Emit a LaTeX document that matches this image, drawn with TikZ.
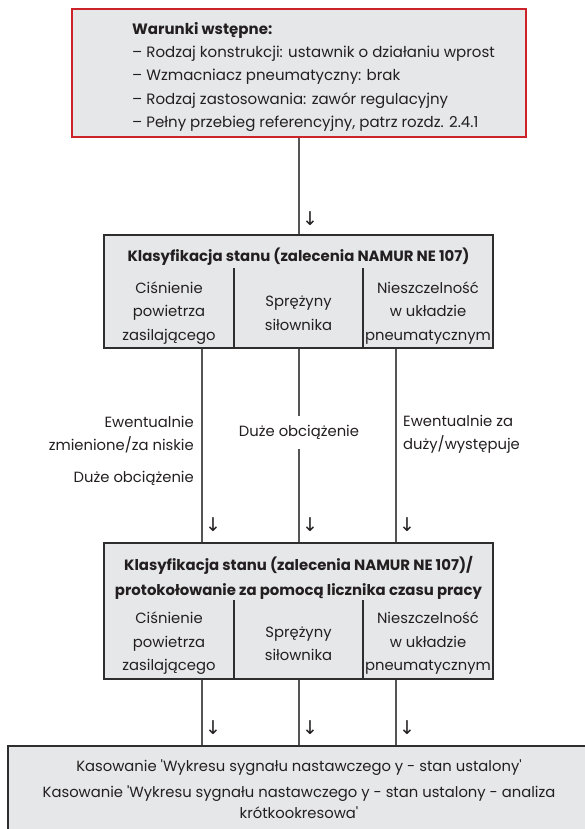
\documentclass[tikz,border=0pt]{standalone}
\usepackage{fontspec}
\newfontfamily\fut{Poppins}
\newfontfamily\arr{DejaVu Sans}
\definecolor{boxfill}{HTML}{E6E7E8}
\definecolor{redline}{HTML}{CC2229}
\definecolor{frame}{HTML}{2E2E2E}
\definecolor{connc}{HTML}{555555}
\definecolor{ink}{HTML}{231F20}
\newlength\mwa \newlength\mwb \newlength\mwc \newlength\mwd \newlength\mwe
\newlength\mta \newlength\mtb \newlength\mtc
\newlength\mba \newlength\mbb
\begin{document}
% calibrate font sizes against the reference text widths
\settowidth\mwa{\fut\fontsize{10}{12}\selectfont Duże obciążenie}%
\settowidth\mwb{\fut\fontsize{10}{12}\selectfont zmienione/za niskie}%
\settowidth\mwc{\fut\fontsize{10}{12}\selectfont Ewentualnie za}%
\settowidth\mwd{\fut\fontsize{10}{12}\selectfont Kasowanie 'Wykresu sygnału nastawczego y - stan ustalony'}%
\settowidth\mwe{\fut\fontsize{10}{12}\selectfont Kasowanie 'Wykresu sygnału nastawczego y - stan ustalony - analiza}%
\settowidth\mta{\fut\fontsize{10}{12}\selectfont – Rodzaj konstrukcji: ustawnik o działaniu wprost}%
\settowidth\mtb{\fut\fontsize{10}{12}\selectfont – Wzmacniacz pneumatyczny: brak}%
\settowidth\mtc{\fut\fontsize{10}{12}\selectfont – Pełny przebieg referencyjny, patrz rozdz. 2.4.1}%
\settowidth\mba{\fut\bfseries\fontsize{10}{12}\selectfont Klasyfikacja stanu (zalecenia NAMUR NE 107)}%
\settowidth\mbb{\fut\bfseries\fontsize{10}{12}\selectfont protokołowanie za pomocą licznika czasu pracy}%
\pgfmathsetmacro\regsize{10*1333/(\mwa+\mwb+\mwc+\mwd+\mwe+0.001)}%
\pgfmathsetmacro\topsize{10*977/(\mta+\mtb+\mtc+0.001)}%
\pgfmathsetmacro\boldsize{10*709/(\mba+\mbb+0.001)}%
\begin{tikzpicture}[x=1pt,y=-1pt]
\tikzset{
  every node/.style={inner sep=0pt, text=ink},
  txt/.style={font=\fut\fontsize{\regsize}{23.5}\selectfont, align=center},
  toptxt/.style={font=\fut\fontsize{\topsize}{23.4}\selectfont, align=left},
  boldtxt/.style={font=\fut\bfseries\fontsize{\boldsize}{25}\selectfont, align=center},
  prebox/.style={draw=redline, line width=2pt, fill=boxfill},
  clsbox/.style={draw=frame, line width=2pt, fill=boxfill},
  conn/.style={draw=connc, line width=1.2pt},
  divider/.style={draw=frame, line width=1.3pt},
  darr/.style={font=\arr\fontsize{19}{19}\selectfont},
}
\useasboundingbox (0,0) rectangle (585,829);

% top box
\node[prebox, minimum width=454pt, minimum height=128pt] (pre) at (299,73) {};
\node[toptxt, anchor=west] (pretext) at (132,77)
  {{\bfseries Warunki wstępne:}\\
   – Rodzaj konstrukcji: ustawnik o działaniu wprost\\
   – Wzmacniacz pneumatyczny: brak\\
   – Rodzaj zastosowania: zawór regulacyjny\\
   – Pełny przebieg referencyjny, patrz rozdz. 2.4.1};

% classification box 1
\node[clsbox, minimum width=389pt, minimum height=113pt] (cls1) at (298.5,291.5) {};
\node[boldtxt] (cls1t) at (298.5,257) {Klasyfikacja stanu (zalecenia NAMUR NE 107)};
\draw[divider] (234,268) -- (234,348);
\draw[divider] (363,268) -- (363,348);
\node[txt] (c1a) at (169,313) {Ciśnienie\\powietrza\\zasilającego};
\node[txt] (c1b) at (298.5,313) {Sprężyny\\siłownika};
\node[txt] (c1c) at (428,313) {Nieszczelność\\w układzie\\pneumatycznym};

% classification box 2
\node[clsbox, minimum width=389pt, minimum height=136pt] (cls2) at (298.5,611) {};
\node[boldtxt] (cls2t) at (298.5,577.5) {Klasyfikacja stanu (zalecenia NAMUR NE 107)/\\protokołowanie za pomocą licznika czasu pracy};
\draw[divider] (234,600) -- (234,679);
\draw[divider] (363,600) -- (363,679);
\node[txt] (c2a) at (169,643.5) {Ciśnienie\\powietrza\\zasilającego};
\node[txt] (c2b) at (298.5,643.5) {Sprężyny\\siłownika};
\node[txt] (c2c) at (428,643.5) {Nieszczelność\\w układzie\\pneumatycznym};

% result box
\node[clsbox, minimum width=600pt, minimum height=120pt, anchor=north west] (res) at (7,745) {};
\node[txt] (r1) at (299,768) {Kasowanie 'Wykresu sygnału nastawczego y - stan ustalony'};
\node[txt, font=\fut\fontsize{\regsize}{21.5}\selectfont] (r2) at (299,802)
  {Kasowanie 'Wykresu sygnału nastawczego y - stan ustalony - analiza\\krótkookresowa'};

% connectors
\coordinate (xl) at (202,0);
\coordinate (xm) at (299,0);
\coordinate (xr) at (396,0);
\draw[conn] (pre.south) -- (pre.south |- cls1.north);
\draw[conn] (xl |- cls1.south) -- (xl |- cls2.north);
\draw[conn] (xm |- cls1.south) -- (xm |- cls2.north);
\draw[conn] (xr |- cls1.south) -- (xr |- cls2.north);
\draw[conn] (xl |- cls2.south) -- (xl |- res.north);
\draw[conn] (xm |- cls2.south) -- (xm |- res.north);
\draw[conn] (xr |- cls2.south) -- (xr |- res.north);

% labels
\node[txt, fill=white, minimum height=33pt, inner xsep=2pt] (lm) at (299,432) {Duże obciążenie};
\node[txt, align=right, anchor=east] (ll) at (194,434.5) {Ewentualnie\\zmienione/za niskie};
\node[txt, anchor=east] (ll2) at (194,478) {Duże obciążenie};
\node[txt, align=left, anchor=west] (rl) at (403,434.5) {Ewentualnie za\\duży/występuje};

% arrow glyphs
\node[darr] (a0) at (310,219) {↓};
\node[darr] (a1) at (213,525) {↓};
\node[darr] (a2) at (310,525) {↓};
\node[darr] (a3) at (407,525) {↓};
\node[darr] (a4) at (213,728) {↓};
\node[darr] (a5) at (310,728) {↓};
\node[darr] (a6) at (407,728) {↓};
\end{tikzpicture}
\end{document}
